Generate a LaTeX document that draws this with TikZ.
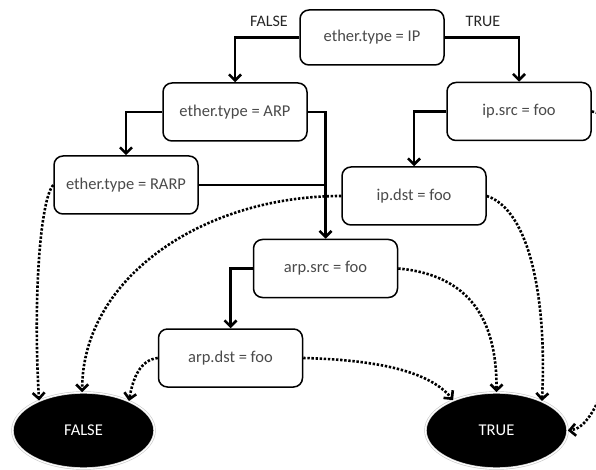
\documentclass[tikz,border=0pt]{standalone}
\usepackage{fontspec}
\setmainfont{Carlito}
\usetikzlibrary{arrows.meta,shapes.geometric}
\definecolor{boxtext}{HTML}{4A4A4A}
\begin{document}
\begin{tikzpicture}[x=1bp,y=-1bp,
  test/.style={draw=black, line width=1.5bp, rounded corners=9bp, fill=white,
    minimum width=144bp, minimum height=58bp, inner sep=0pt, text=boxtext,
    font=\fontsize{16.5bp}{18bp}\selectfont},
  result/.style={ellipse, fill=black, draw=gray!45, double=white,
    double distance=1.2bp, line width=0.6bp, minimum width=142bp,
    minimum height=76bp, inner sep=0pt, text=white,
    font=\fontsize{16.5bp}{18bp}\selectfont},
  branch/.style={line width=2.6bp, -{Straight Barb[length=6bp,width=12bp]}},
  merge/.style={line width=2.6bp},
  fallback/.style={line width=2.6bp, dash pattern=on 2.4bp off 1.7bp,
    -{Straight Barb[length=6bp,width=12bp]}},
  lbl/.style={text=black!85, font=\fontsize{16bp}{18bp}\selectfont}
]
\useasboundingbox (0,0) rectangle (596,470);

% test nodes
\node[test, minimum height=55bp] (ip)   at (372,37.5)  {ether.type = IP};
\node[test] (arp)    at (235,112)   {ether.type = ARP};
\node[test] (rarp)   at (126,185)   {ether.type = RARP};
\node[test] (ipsrc)  at (519,111.5) {ip.src = foo};
\node[test] (ipdst)  at (414,196)   {ip.dst = foo};
\node[test] (arpsrc) at (325.5,268.5) {arp.src = foo};
\node[test] (arpdst) at (230.5,358) {arp.dst = foo};

% terminal results
\node[result] (F) at (83.5,430.5) {FALSE};
\node[result] (T) at (496.5,430.5) {TRUE};

% branch labels
\node[lbl] (lf) at (269,21) {FALSE};
\node[lbl] (lt) at (483,21) {TRUE};

% solid branches
\draw[branch] (ip.west) -| (arp.north);
\draw[branch] (ip.east) -| (ipsrc.north);
\draw[branch] (arp.west) -| (rarp.north);
\draw[branch] (arp.east) -| (arpsrc.north);
\draw[merge]  (rarp.east) -- (rarp.east -| arpsrc.north);
\draw[branch] (ipsrc.west) -| (ipdst.north);
\draw[branch] (arpsrc.west) -| (arpdst.north);

% dotted fall-through edges
\draw[fallback] (rarp.west) .. controls (40,200) and (33,300) .. (F.146);
\draw[fallback] (ipdst.west) .. controls (200,196) and (82,280) .. (F.92);
\draw[fallback] (arpdst.west) .. controls (140,360) and (133,378) .. (F.33);
\draw[fallback] (arpdst.east) .. controls (380,360) and (430,372) .. (T.145);
\draw[fallback] (arpsrc.east) .. controls (470,275) and (497,320) .. (T.90);
\draw[fallback] (ipdst.east) .. controls (530,210) and (547,300) .. (T.33);
\draw[fallback] (ipsrc.east) .. controls (660,120) and (625,425) .. (T.east);
\end{tikzpicture}
\end{document}
